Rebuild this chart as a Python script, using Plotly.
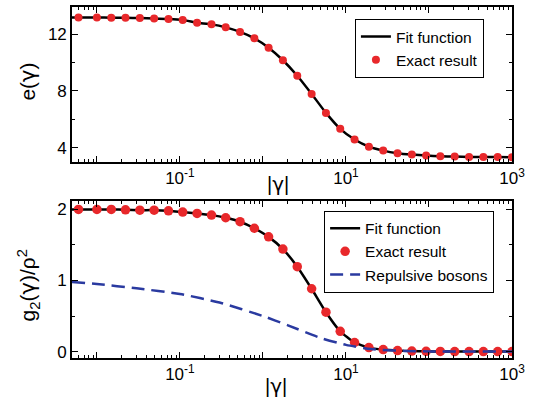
import plotly.graph_objects as go

# ---- data ----
gamma = [0.006, 0.01, 0.0149, 0.0221, 0.0329, 0.0489, 0.0728, 0.108, 0.161, 0.240,
         0.356, 0.530, 0.788, 1.17, 1.74, 2.59, 3.86, 5.74, 8.53, 12.7,
         18.9, 28.1, 41.8, 62.1, 92.4, 137, 204, 304, 452, 672, 1000]
e_exact = [13.16, 13.16, 13.15, 13.14, 13.13, 13.10, 13.06, 12.98, 12.80, 12.68,
           12.47, 12.15, 11.70, 11.04, 10.16, 9.07, 7.79, 6.46, 5.34, 4.59,
           4.09, 3.81, 3.63, 3.53, 3.46, 3.42, 3.39, 3.37, 3.36, 3.36, 3.35]
g2_exact = [2.00, 2.00, 2.00, 1.995, 1.99, 1.99, 1.98, 1.962, 1.944, 1.92,
            1.883, 1.827, 1.735, 1.614, 1.442, 1.195, 0.884, 0.554, 0.285, 0.128,
            0.056, 0.028, 0.014, 0.007, 0.004, 0.002, 0.001, 0.001, 0.0, 0.0, 0.0]
fit_gamma = [0.005] + gamma
e_fit = [13.16] + e_exact
g2_fit = [2.00] + g2_exact
rb_gamma = [0.005, 0.01, 0.03, 0.1, 0.3, 1, 2, 5, 10, 20, 50, 100, 1000]
rb_g2 = [0.98, 0.95, 0.89, 0.81, 0.69, 0.50, 0.37, 0.19, 0.095, 0.035, 0.01, 0.003, 0.0]

x_major = [0.01, 0.1, 1, 10, 100, 1000]
x_labels = ["", "10<sup>-1</sup>", "", "10<sup>1</sup>", "", "10<sup>3</sup>"]

RED = "#E8282B"
BLUE = "#2A3AA0"
FONT = "Arial, Liberation Sans, sans-serif"
G = "<span style=\"font-family:'DejaVu Sans'\">γ</span>"

fig = go.Figure()
# top panel
fig.add_trace(go.Scatter(x=fit_gamma, y=e_fit, mode="lines", name="Fit function",
                         line=dict(color="black", width=2.5, shape="spline", smoothing=0.5),
                         xaxis="x", yaxis="y", legend="legend"))
fig.add_trace(go.Scatter(x=gamma, y=e_exact, mode="markers", name="Exact result",
                         marker=dict(color=RED, size=8), xaxis="x", yaxis="y", legend="legend"))
# bottom panel
fig.add_trace(go.Scatter(x=fit_gamma, y=g2_fit, mode="lines", name="Fit function",
                         line=dict(color="black", width=2.5, shape="spline", smoothing=0.5),
                         xaxis="x2", yaxis="y2", legend="legend2"))
fig.add_trace(go.Scatter(x=gamma, y=g2_exact, mode="markers", name="Exact result",
                         marker=dict(color=RED, size=9.5), xaxis="x2", yaxis="y2", legend="legend2"))
fig.add_trace(go.Scatter(x=rb_gamma, y=rb_g2, mode="lines", name="Repulsive bosons",
                         line=dict(color=BLUE, width=2.5, dash="13px,7px", shape="spline", smoothing=0.6),
                         xaxis="x2", yaxis="y2", legend="legend2"))

minor_x = [m * 10 ** p for p in range(-3, 3) for m in range(2, 10)]

def xaxis_style(anchor):
    return dict(type="log", range=[-2.3, 3.0], anchor=anchor,
                tickmode="array", tickvals=x_major, ticktext=x_labels,
                ticks="inside", ticklen=6, tickwidth=1.3, tickcolor="black",
                minor=dict(tickmode="array", tickvals=minor_x, ticks="inside",
                           ticklen=3.5, tickwidth=1.1, tickcolor="black"),
                showline=True, linecolor="black", linewidth=1.6, mirror="ticks",
                showgrid=False, zeroline=False,
                tickfont=dict(size=17, color="black", family=FONT))

def yaxis_style(anchor, rng, vals, minor_dt):
    return dict(range=rng, anchor=anchor, tickmode="array", tickvals=vals,
                ticks="inside", ticklen=6, tickwidth=1.3, tickcolor="black",
                minor=dict(dtick=minor_dt, ticks="inside", ticklen=3.5,
                           tickwidth=1.1, tickcolor="black"),
                showline=True, linecolor="black", linewidth=1.6, mirror="ticks",
                showgrid=False, zeroline=False,
                tickfont=dict(size=17, color="black", family=FONT))

fig.update_layout(
    width=537, height=405,
    margin=dict(l=72, r=25, t=5, b=47),
    paper_bgcolor="white", plot_bgcolor="white",
    font=dict(family=FONT, color="black"),
    xaxis=dict(domain=[0, 1], **xaxis_style("y")),
    yaxis=dict(domain=[0.558, 1.0], **yaxis_style("x", [3.0, 13.9], [4, 8, 12], 2)),
    xaxis2=dict(domain=[0, 1], **xaxis_style("y2")),
    yaxis2=dict(domain=[0, 0.4476], **yaxis_style("x2", [-0.09, 2.12], [0, 1, 2], 0.5)),
    legend=dict(x=0.643, y=0.966, xanchor="left", yanchor="top",
                bordercolor="black", borderwidth=1, bgcolor="white",
                font=dict(size=15.5, color="black", family=FONT), tracegroupgap=0),
    legend2=dict(x=0.573, y=0.420, xanchor="left", yanchor="top",
                 bordercolor="black", borderwidth=1, bgcolor="white",
                 font=dict(size=15.5, color="black", family=FONT), tracegroupgap=0),
    showlegend=True,
    annotations=[
        dict(text="|" + G + "|", x=0.468, y=0.4958, xref="paper", yref="paper",
             showarrow=False, font=dict(size=20, color="black", family=FONT),
             xanchor="center", yanchor="middle"),
        dict(text="|" + G + "|", x=0.464, y=-0.0793, xref="paper", yref="paper",
             showarrow=False, font=dict(size=20, color="black", family=FONT),
             xanchor="center", yanchor="middle"),
        dict(text="e(" + G + ")", x=-0.1, y=0.7875, xref="paper", yref="paper",
             showarrow=False, textangle=-90, font=dict(size=21, color="black", family=FONT),
             xanchor="center", yanchor="middle"),
        dict(text="g<sub>2</sub>(" + G + ")/ρ<sup>2</sup>", x=-0.1, y=0.2068, xref="paper", yref="paper",
             showarrow=False, textangle=-90, font=dict(size=21, color="black", family=FONT),
             xanchor="center", yanchor="middle"),
    ],
)

fig.write_html("out.html", config={"displayModeBar": False},
               post_script="document.body.style.margin='0px';")
